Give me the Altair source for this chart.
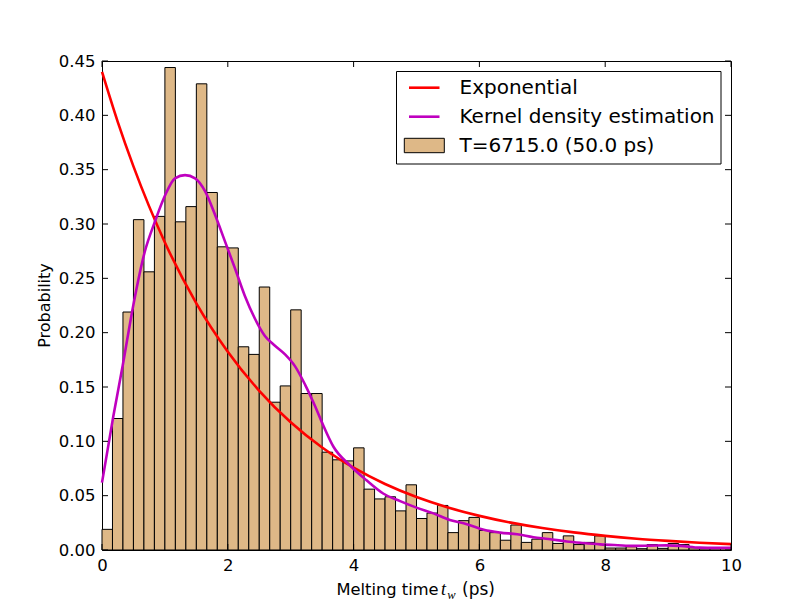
import altair as alt
import pandas as pd

# ---- data ----
prob = [0.019, 0.121, 0.219, 0.304, 0.256, 0.307, 0.444, 0.302, 0.316, 0.429,
        0.329, 0.279, 0.278, 0.187, 0.180, 0.242, 0.136, 0.151, 0.221, 0.144,
        0.144, 0.090, 0.083, 0.082, 0.094, 0.056, 0.047, 0.049, 0.036, 0.060,
        0.029, 0.034, 0.041, 0.016, 0.027, 0.030, 0.018, 0.016, 0.009, 0.023,
        0.007, 0.010, 0.016, 0.006, 0.013, 0.005, 0.007, 0.013, 0.0018, 0.0018,
        0.003, 0.0012, 0.005, 0.0015, 0.006, 0.005, 0.002, 0.0012, 0.0012, 0.0015]

exp_x = [0, 0.25, 0.5, 1.0, 1.5, 2.0, 2.5, 3.0, 3.5, 4.0, 4.5, 5.0, 5.5,
         6.0, 6.5, 7.0, 7.5, 8.0, 8.5, 9.0, 9.5, 10.0]
exp_y = [0.440, 0.394, 0.353, 0.283, 0.227, 0.1825, 0.1465, 0.1175, 0.0943,
         0.0757, 0.0607, 0.0487, 0.0391, 0.0314, 0.0252, 0.0202, 0.0162,
         0.0130, 0.0104, 0.0084, 0.0067, 0.0054]

kde_x = [0, 0.18, 0.33, 0.5, 0.68, 0.84, 1.0, 1.16, 1.32, 1.48, 1.64, 1.80,
         1.955, 2.115, 2.27, 2.43, 2.59, 2.75, 2.91, 3.07, 3.23, 3.39, 3.5,
         3.68, 3.94, 4.2, 4.47, 4.74, 5.0, 5.27, 5.53, 5.8, 6.07, 6.33, 6.6,
         6.86, 7.1, 7.39, 7.65, 7.92, 8.2, 8.45, 8.7, 8.98, 9.2, 9.5, 9.75, 10.0]
kde_y = [0.062, 0.123, 0.170, 0.226, 0.2745, 0.302, 0.326, 0.342, 0.345,
         0.342, 0.330, 0.308, 0.284, 0.259, 0.234, 0.213, 0.197, 0.188, 0.180,
         0.169, 0.152, 0.132, 0.117, 0.095, 0.078, 0.0644, 0.052, 0.045,
         0.039, 0.0337, 0.0276, 0.0238, 0.0186, 0.016, 0.0145, 0.0118, 0.0102,
         0.0078, 0.0064, 0.0052, 0.0044, 0.0038, 0.004, 0.0043, 0.0038,
         0.0022, 0.002, 0.002]

x_ticks = [0, 2, 4, 6, 8, 10]
y_ticks = [0.0, 0.05, 0.10, 0.15, 0.20, 0.25, 0.30, 0.35, 0.40, 0.45]

legend_labels = ["Exponential", "Kernel density estimation", "T=6715.0 (50.0 ps)"]

# ---- tables ----
n = len(prob)
bw = 10.0 / n
bins = pd.DataFrame({"start": [i * bw for i in range(n)],
                     "end": [(i + 1) * bw for i in range(n)],
                     "p": prob, "z": [0.0] * n})
exp_df = pd.DataFrame({"x": exp_x, "y": exp_y})
kde_df = pd.DataFrame({"x": kde_x, "y": kde_y})
xt = pd.DataFrame({"t": x_ticks})
yt = pd.DataFrame({"t": y_ticks})
one = pd.DataFrame({"a": [0]})

W, H = 629, 489
FONT = "DejaVu Sans"
FS = 16.5
TAN = "#deb887"

xs = alt.Scale(domain=[0, 10], nice=False, zero=False)
ys = alt.Scale(domain=[0, 0.45], nice=False, zero=False)
ax_x = alt.Axis(values=x_ticks, format="d", title=None, labelPadding=7.5,
                labelFlush=False)
ax_y = alt.Axis(values=y_ticks, format=".2f", title=None, labelPadding=7,
                labelFlush=False)

def X(f):
    return alt.X(f, scale=xs, axis=ax_x)

def Y(f):
    return alt.Y(f, scale=ys, axis=ax_y)

bars = alt.Chart(bins).mark_rect(fill=TAN, stroke="black", strokeWidth=1).encode(
    x=X("start:Q"), x2="end:Q", y=Y("p:Q"), y2="z:Q")

exp_line = alt.Chart(exp_df).mark_line(color="#ff0000", strokeWidth=2.6,
                                       interpolate="monotone").encode(
    x=X("x:Q"), y=Y("y:Q"))
kde_line = alt.Chart(kde_df).mark_line(color="#bf00bf", strokeWidth=2.6,
                                       interpolate="monotone").encode(
    x=X("x:Q"), y=Y("y:Q"))

TL = 6
tick_b = alt.Chart(xt).mark_rule(color="black", strokeWidth=1).encode(
    x=X("t:Q"), y=alt.value(H), y2=alt.value(H - TL))
tick_t = alt.Chart(xt).mark_rule(color="black", strokeWidth=1).encode(
    x=X("t:Q"), y=alt.value(0), y2=alt.value(TL))
tick_l = alt.Chart(yt).mark_rule(color="black", strokeWidth=1).encode(
    y=Y("t:Q"), x=alt.value(0), x2=alt.value(TL))
tick_r = alt.Chart(yt).mark_rule(color="black", strokeWidth=1).encode(
    y=Y("t:Q"), x=alt.value(W), x2=alt.value(W - TL))

def txt(s, x, y, size=FS, font=FONT, align="left", style=None, angle=None):
    kw = dict(text=s, font=font, fontSize=size, color="black", align=align,
              baseline="alphabetic")
    if style:
        kw["fontStyle"] = style
    if angle is not None:
        kw["angle"] = angle
    return alt.Chart(one).mark_text(**kw).encode(x=alt.value(x), y=alt.value(y))

# axis titles
TB = 534
xt1 = txt("Melting time", 234.5, TB, size=16.3)
xt2 = txt("t", 339, TB, size=18, font="Liberation Serif", style="italic")
xt3 = txt("w", 345.3, TB + 3.5, size=12.5, font="Liberation Serif", style="italic")
xt4 = txt("(ps)", 360, TB, size=17)
ytl = txt("Probability", -52.5, 244.5, size=16, align="center", angle=270)

# legend
box = alt.Chart(one).mark_rect(fill="white", stroke="black", strokeWidth=1).encode(
    x=alt.value(294.5), x2=alt.value(619), y=alt.value(10.5), y2=alt.value(103))
leg_r = alt.Chart(one).mark_rule(color="#ff0000", strokeWidth=2.6).encode(
    x=alt.value(307), x2=alt.value(337.5), y=alt.value(26.7))
leg_m = alt.Chart(one).mark_rule(color="#bf00bf", strokeWidth=2.6).encode(
    x=alt.value(307), x2=alt.value(337.5), y=alt.value(55.7))
leg_p = alt.Chart(one).mark_rect(fill=TAN, stroke="black", strokeWidth=1).encode(
    x=alt.value(302.3), x2=alt.value(342.3), y=alt.value(77.3), y2=alt.value(91.7))
lt1 = txt(legend_labels[0], 357.5, 33.3, size=20)
lt2 = txt(legend_labels[1], 357.5, 62.3, size=20)
lt3 = txt(legend_labels[2], 357.5, 90.7, size=20)

chart = alt.layer(
    bars, exp_line, kde_line, tick_b, tick_t, tick_l, tick_r,
    xt1, xt2, xt3, xt4, ytl,
    box, leg_r, leg_m, leg_p, lt1, lt2, lt3,
).properties(
    width=W, height=H,
    padding={"left": 94, "top": 53, "right": 60, "bottom": 54},
    autosize=alt.AutoSizeParams(type="none"),
    background="white",
).configure_view(
    stroke="black", strokeWidth=1
).configure_axis(
    domain=False, ticks=False, tickSize=0, grid=False,
    labelFont=FONT, labelFontSize=FS, labelColor="black",
)

chart.save("out.html", embed_options={"renderer": "svg", "actions": False})
